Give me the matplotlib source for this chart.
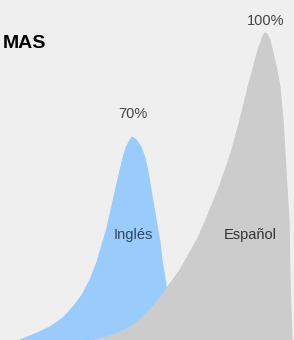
import matplotlib.pyplot as plt
import numpy as np

# outline of each peak (x, height above bottom edge)
ingles_left_x = [20, 35, 50, 63, 73, 82, 90, 97, 102, 107, 111, 115, 119, 123, 126, 129, 132]
ingles_left_h = [0, 6, 13, 22, 33, 45, 60, 78, 95, 112, 130, 148, 165, 182, 192, 198, 203]
ingles_right_x = [132, 134, 137, 141, 145, 148, 151, 154, 157, 160, 162, 166, 172]
ingles_right_h = [203, 202, 199, 193, 182, 168, 150, 132, 115, 98, 80, 55, 0]

espanol_left_x = [95, 110, 125, 140, 150, 160, 167, 180, 197, 205, 212, 220, 231, 240,
                  248, 254, 258, 261, 263, 265]
espanol_left_h = [0, 4, 10, 20, 30, 42, 52, 70, 100, 118, 135, 155, 187, 220,
                  253, 275, 290, 298, 304, 307]
espanol_right_x = [265, 267, 270, 273, 277, 280, 283, 285, 287, 289, 290, 292]
espanol_right_h = [307, 306, 300, 287, 270, 253, 220, 187, 153, 120, 60, 0]

names = ["Inglés", "Español"]
peaks = ["70%", "100%"]
title = "MAS"

bg = "#efefef"
fig = plt.figure(figsize=(2.94, 3.40), dpi=100, facecolor=bg)
ax = fig.add_axes([0, 0, 1, 1])
ax.set_facecolor(bg)
ax.set_xlim(0, 294)
ax.set_ylim(0, 340)
ax.axis("off")

# blue first, grey on top
bx = ingles_left_x + ingles_right_x[1:]
bh = ingles_left_h + ingles_right_h[1:]
ax.fill(bx, bh, color="#99ccfc", lw=0.8, ec="#99ccfc", joinstyle="round")
gx = espanol_left_x + espanol_right_x[1:]
gh = espanol_left_h + espanol_right_h[1:]
ax.fill(gx, gh, color="#cccccc", lw=0.8, ec="#cccccc", joinstyle="round")

lab_font = ["Liberation Sans", "DejaVu Sans"]
ax.text(133, 226, peaks[0], ha="center", va="center", fontsize=10.5,
        color="#444444", family=lab_font)
ax.text(266, 319, peaks[1], ha="center", va="center", fontsize=10.5,
        color="#444444", family=lab_font)
ax.text(133, 105, names[0], ha="center", va="center", fontsize=10.5,
        color="#34475c", family=lab_font)
ax.text(250, 105, names[1], ha="center", va="center", fontsize=10.5,
        color="#333333", family=lab_font)

ax.text(46, 296, title, ha="right", va="center", fontsize=14, weight="bold",
        color="black", family=lab_font)

fig.savefig("out.png", dpi=100, facecolor=bg)
